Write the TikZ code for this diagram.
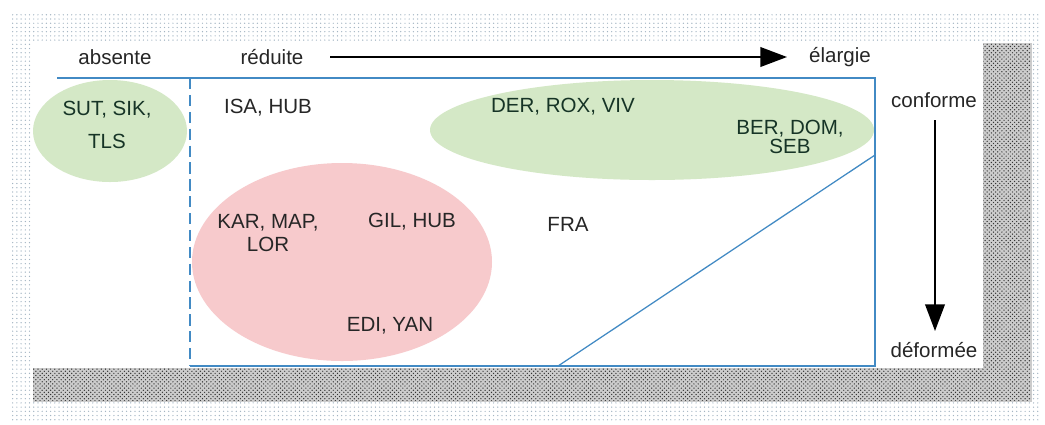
\documentclass[tikz,border=0pt]{standalone}
\usepackage{fontspec}
\setmainfont{Liberation Sans}
\usetikzlibrary{calc,positioning,arrows.meta,shapes,patterns}

\definecolor{lineblue}{RGB}{66,138,196}
\definecolor{grpgreen}{RGB}{212,232,198}
\definecolor{grpred}{RGB}{247,202,204}
\definecolor{txtgreen}{RGB}{22,52,38}

\begin{document}
\begin{tikzpicture}[x=0.025cm,y=-0.025cm,
  lab/.style={font=\fontsize{14.6}{17}\selectfont,align=center,inner sep=1pt,text=black!85},
  glab/.style={lab,text=txtgreen},
  bline/.style={lineblue,line width=0.9pt},
  bigarrow/.style={line width=1.3pt,-{Triangle[length=19pt,width=14pt]}}]
  \useasboundingbox (0,0) rectangle (1045,424);
  % cadre avec ombre
  \fill[pattern=dots,pattern color=lineblue!40!gray!60] (12,14) rectangle (1040,421);
  \fill[gray!40] (33,43) rectangle (1032,402);
  \fill[pattern=crosshatch dots,pattern color=black!80] (33,43) rectangle (1030,400);
  \fill[white] (33,43) rectangle (983,368);

  % groupes
  \fill[grpgreen] (110,131) ellipse [x radius=77,y radius=51];
  \fill[grpgreen] (652,130) ellipse [x radius=222,y radius=50];
  \fill[grpred] (342,262) ellipse [x radius=150,y radius=99];

  % axes
  \draw[bline] (57,78) -- (875,78) -- (875,366) -- (190,366);
  \draw[bline,dashed,dash pattern=on 8pt off 4pt] (190,78) -- (190,366);
  \draw[bline] (558,366) -- (875,155);

  \node[lab] (absente) at (115,57) {absente};
  \node[lab] (reduite) at (272,57) {réduite};
  \node[lab] (elargie) at (840,57) {élargie};
  \node[lab] (conforme) at (934,100) {conforme};
  \node[lab] (deformee) at (934,350) {déformée};
  \coordinate (h0) at (330,57);
  \coordinate (h1) at (787,57);
  \coordinate (v0) at (935,120);
  \coordinate (v1) at (935,331);
  \draw[bigarrow] (h0) -- (h1);
  \draw[bigarrow] (v0) -- (v1);

  % sujets
  \node[glab] (sut) at (107,125) {SUT, SIK,\\[7pt]TLS};
  \node[lab] (isa) at (268,108) {ISA, HUB};
  \node[glab] (der) at (563,107) {DER, ROX, VIV};
  \node[glab] (ber) at (790,137) {BER, DOM,\\[-3pt]SEB};
  \node[lab] (kar) at (268,233) {KAR, MAP,\\LOR};
  \node[lab] (gil) at (412,222) {GIL, HUB};
  \node[lab] (fra) at (568,224) {FRA};
  \node[lab] (edi) at (390,326) {EDI, YAN};
\end{tikzpicture}
\end{document}
